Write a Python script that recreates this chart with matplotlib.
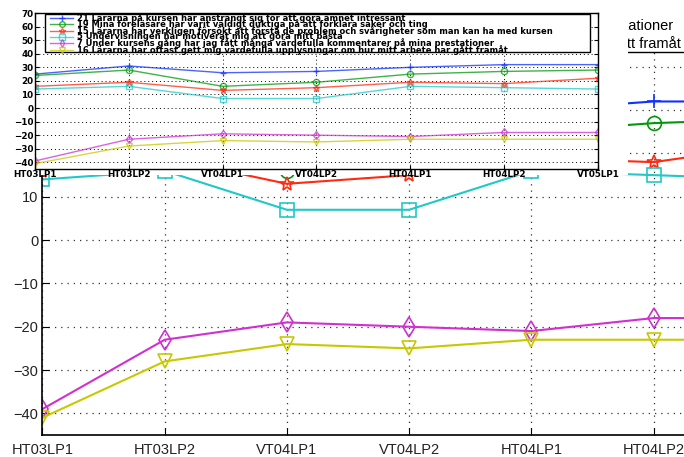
import matplotlib
matplotlib.use('Agg')
import matplotlib.pyplot as plt
from matplotlib.patches import Rectangle

plt.rcParams['font.family'] = ['Liberation Sans', 'DejaVu Sans']
plt.rcParams['axes.unicode_minus'] = True

# terminer
labels = ['HT03LP1', 'HT03LP2', 'VT04LP1', 'VT04LP2', 'HT04LP1', 'HT04LP2', 'VT05LP1']

# svar per fråga
q21 = [25, 31, 26, 27, 30, 32, 32]
q19 = [24, 28, 16, 19, 25, 27, 28]
q15 = [16, 19, 13, 15, 19, 18, 22]
q5 = [14, 16, 7, 7, 16, 15, 14]
q7 = [-39, -23, -19, -20, -21, -18, -18]
q16 = [-41, -28, -24, -25, -23, -23, -23]

names = [
    '21 Lärarna på kursen har ansträngt sig för att göra ämnet intressant',
    '19 Mina föreläsare har varit väldigt duktiga på att förklara saker och ting',
    '15 Lärarna har verkligen försökt att förstå de problem och svårigheter som man kan ha med kursen',
    '5 Undervisningen har motiverat mig att göra mitt bästa',
    '7 Under kursens gång har jag fått många värdefulla kommentarer på mina prestationer',
    '16 Lärarna har oftast gett mig värdefulla upplysningar om hur mitt arbete har gått framåt',
]
values = [q21, q19, q15, q5, q7, q16]
colors = ['#1030ff', '#00990a', '#ff2a10', '#20c8c8', '#d030d0', '#c8c800']
markers = ['+', 'o', '*', 's', 'd', 'v']

x = list(range(len(labels)))
yt = list(range(-40, 71, 10))

fig = plt.figure(figsize=(6.84, 4.57), dpi=100)

# stor bild (bakom)
ax = fig.add_axes([0.0621, 0.0481, 1.072, 1.09], zorder=0)
for vals, name, col, mk in zip(values, names, colors, markers):
    ax.plot(x, vals, color=col, marker=mk, mfc='none', ms=10, mew=1.2, lw=1.5, label=name)
ax.set_xlim(0, 6)
ax.set_ylim(-45, 70)
ax.set_xticks(x, labels)
# etiketter ovanför 10 ligger ändå under den lilla bilden
ax.set_yticks(yt, [str(v).replace('-', '\u2212') if v <= 10 else '' for v in yt])
ax.grid(True, linestyle=(0, (1, 4)), color='#333333', lw=0.9)
ax.tick_params(direction='in', labelsize=10.5, length=5, top=True, right=True,
               labelcolor='#222222')
ax.tick_params(axis='x', pad=6)
ax.tick_params(axis='y', pad=3)
for s in ax.spines.values():
    s.set_linewidth(1.2)

leg = ax.legend(loc='lower left', bbox_to_anchor=(0, 405 / 457), bbox_transform=fig.transFigure,
                fontsize=10.5, fancybox=False, edgecolor='black', framealpha=1, borderaxespad=0,
                labelspacing=0.22, borderpad=0.05)
leg.get_frame().set_linewidth(1.0)
fig.canvas.draw()
ext = leg.get_texts()[4].get_window_extent()
leg.set_bbox_to_anchor((((673 - ext.x1) / 684), 405 / 457), transform=fig.transFigure)

# vit bakgrund för den lilla bilden
fig.add_artist(Rectangle((0, 0.617), 0.918, 0.383, transform=fig.transFigure,
                         facecolor='white', edgecolor='none', zorder=1))

# liten bild (framför)
ax2 = fig.add_axes([0.0512, 0.630, 0.823, 0.3414], zorder=2)
for vals, name, col, mk in zip(values, names, colors, markers):
    ax2.plot(x, vals, color=col, marker=mk, mfc='none', ms=4.5, mew=1, lw=1, alpha=0.75)
ax2.set_xlim(0, 6)
ax2.set_ylim(-45, 70)
ax2.set_xticks(x, labels)
ax2.set_yticks(yt)
ax2.grid(True, linestyle=(0, (1, 3)), color='black', lw=0.7)
ax2.tick_params(direction='in', length=3, top=True, right=True, pad=1)
for t in ax2.get_xticklabels() + ax2.get_yticklabels():
    t.set_fontweight('bold')
    t.set_fontfamily(['DejaVu Sans'])
    t.set_fontsize(6.3)
for s in ax2.spines.values():
    s.set_linewidth(1.0)

# liten bild: förklaringsruta med tätt radavstånd
def ax_x(px):
    return (px - 35) / 563

def ax_y(py):
    return (169 - py) / 156

box_bottom = 52
ax2.add_patch(Rectangle((ax_x(45), ax_y(box_bottom)), ax_x(590) - ax_x(45),
                        ax_y(14) - ax_y(box_bottom), transform=ax2.transAxes,
                        facecolor='white', edgecolor='black', lw=1.0, zorder=5))
fs = 6.0
texts = []
for i, (name, col, mk) in enumerate(zip(names, colors, markers)):
    yy = ax_y(18 + i * 6.3)
    ax2.plot([ax_x(50), ax_x(73)], [yy, yy], color=col, lw=1, alpha=0.75,
             transform=ax2.transAxes, clip_on=False, zorder=6)
    ax2.plot([ax_x(61.5)], [yy], color=col, marker=mk, mfc='none', ms=4, mew=1, alpha=0.75,
             transform=ax2.transAxes, clip_on=False, zorder=6)
    texts.append(ax2.text(ax_x(77), yy, name, transform=ax2.transAxes, fontsize=fs,
                          fontweight='bold', family=['DejaVu Sans'], va='center', ha='left',
                          zorder=7))
fig.canvas.draw()
w = texts[2].get_window_extent().width
if w > 510:
    for t in texts:
        t.set_fontsize(fs * 510 / w)

fig.savefig('out.png', dpi=100)
